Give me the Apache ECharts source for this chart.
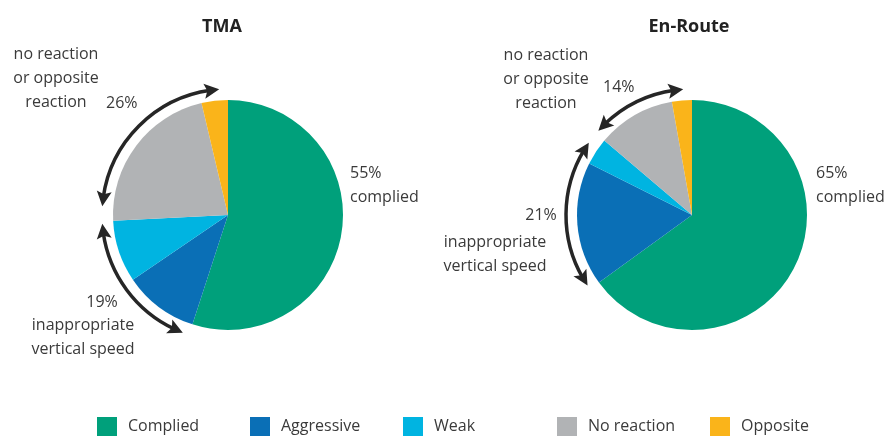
<!DOCTYPE html>
<html>
<head>
<meta charset="utf-8">
<script src="https://cdn.jsdelivr.net/npm/echarts@6/dist/echarts.min.js"></script>
<style>
  html, body { margin: 0; padding: 0; background: #fff; }
  #chart { width: 892px; height: 437px; }
</style>
</head>
<body>
<div id="chart"></div>
<script>
// data
const categories = ['Complied', 'Aggressive', 'Weak', 'No reaction', 'Opposite'];
const tmaValues = [55, 10.5, 8.7, 22.1, 3.7];
const enRouteValues = [65, 17.4, 3.8, 11, 2.8];
const chartTitles = ['TMA', 'En-Route'];

const colors = ['#00a07b', '#0a6fb6', '#00b4e1', '#b1b3b5', '#fab41a'];
const font = '"Open Sans", sans-serif';
const textColor = '#3a3a3a';

// layout of the two pies
const pies = [
  { cx: 228, cy: 215, r: 115 },
  { cx: 692, cy: 215, r: 115 }
];

// double arrows round the pies (degrees clockwise from 12 o'clock)
const arrowArcs = [
  { pie: 0, from: 274, to: 356 },
  { pie: 0, from: 201, to: 266 },
  { pie: 1, from: 312, to: 356 },
  { pie: 1, from: 236, to: 305 }
];
const arrowR = 126;

function pt(p, deg, r) {
  let a = deg * Math.PI / 180;
  return [p.cx + r * Math.sin(a), p.cy - r * Math.cos(a)];
}

function arrowHead(p, tipDeg, backDeg) {
  let headLen = 15, headW = 15;
  let tip = pt(p, tipDeg, arrowR);
  let dd = headLen / arrowR * 180 / Math.PI;
  let base = pt(p, tipDeg + (backDeg > tipDeg ? dd : -dd), arrowR);
  let ux = tip[0] - base[0], uy = tip[1] - base[1];
  let len = Math.sqrt(ux * ux + uy * uy);
  ux /= len; uy /= len;
  let nx = -uy, ny = ux;
  return {
    type: 'polygon',
    silent: true,
    shape: {
      points: [
        tip,
        [base[0] + nx * headW / 2, base[1] + ny * headW / 2],
        [base[0] + ux * 3, base[1] + uy * 3],
        [base[0] - nx * headW / 2, base[1] - ny * headW / 2]
      ]
    },
    style: { fill: '#262626' }
  };
}

let graphics = [];
arrowArcs.forEach(a => {
  let p = pies[a.pie];
  graphics.push({
    type: 'arc',
    silent: true,
    shape: {
      cx: p.cx, cy: p.cy, r: arrowR,
      startAngle: (a.from + 4 - 90) * Math.PI / 180,
      endAngle: (a.to - 4 - 90) * Math.PI / 180,
      clockwise: true
    },
    style: { stroke: '#262626', lineWidth: 3.5, fill: null }
  });
  graphics.push(arrowHead(p, a.to, a.from));
  graphics.push(arrowHead(p, a.from, a.to));
});

function label(text, x, y, align) {
  return {
    type: 'text',
    silent: true,
    x: x, y: y,
    style: {
      text: text,
      font: '16px ' + font,
      fill: textColor,
      align: align || 'left',
      verticalAlign: 'middle',
      lineHeight: 24
    }
  };
}

// titles
chartTitles.forEach((t, i) => {
  graphics.push({
    type: 'text', silent: true,
    x: [222, 689][i], y: 27,
    style: { text: t, font: 'bold 18px ' + font, fill: '#222', align: 'center', verticalAlign: 'middle' }
  });
});

// TMA annotations
graphics.push(label('no reaction\nor opposite\nreaction', 56, 78, 'center'));
graphics.push(label('26%', 106, 103));
graphics.push(label('55%\ncomplied', 350, 185));
graphics.push(label('19%', 102, 302, 'center'));
graphics.push(label('inappropriate\nvertical speed', 83, 337, 'center'));

// En-Route annotations
graphics.push(label('no reaction\nor opposite\nreaction', 546, 79, 'center'));
graphics.push(label('14%', 603, 87));
graphics.push(label('65%\ncomplied', 816, 185));
graphics.push(label('21%', 541, 215, 'center'));
graphics.push(label('inappropriate\nvertical speed', 495, 254, 'center'));

const legendLeft = [97, 250, 403, 557, 710];

function pieSeries(values, i) {
  return {
    type: 'pie',
    name: chartTitles[i],
    center: [pies[i].cx, pies[i].cy],
    radius: pies[i].r,
    startAngle: 90,
    clockwise: true,
    silent: true,
    animation: false,
    label: { show: false },
    labelLine: { show: false },
    itemStyle: { borderWidth: 0 },
    data: categories.map((c, k) => ({ name: c, value: values[k] }))
  };
}

const chart = echarts.init(document.getElementById('chart'));
chart.setOption({
  backgroundColor: '#fff',
  color: colors,
  animation: false,
  legend: categories.map((c, i) => ({
    data: [c],
    left: legendLeft[i],
    top: 417,
    icon: 'rect',
    itemWidth: 20,
    itemHeight: 19,
    selectedMode: false,
    padding: 0,
    textStyle: { fontFamily: font, fontSize: 16, color: textColor, padding: [0, 0, 0, 6] }
  })),
  series: [pieSeries(tmaValues, 0), pieSeries(enRouteValues, 1)],
  graphic: graphics
});
</script>
</body>
</html>
